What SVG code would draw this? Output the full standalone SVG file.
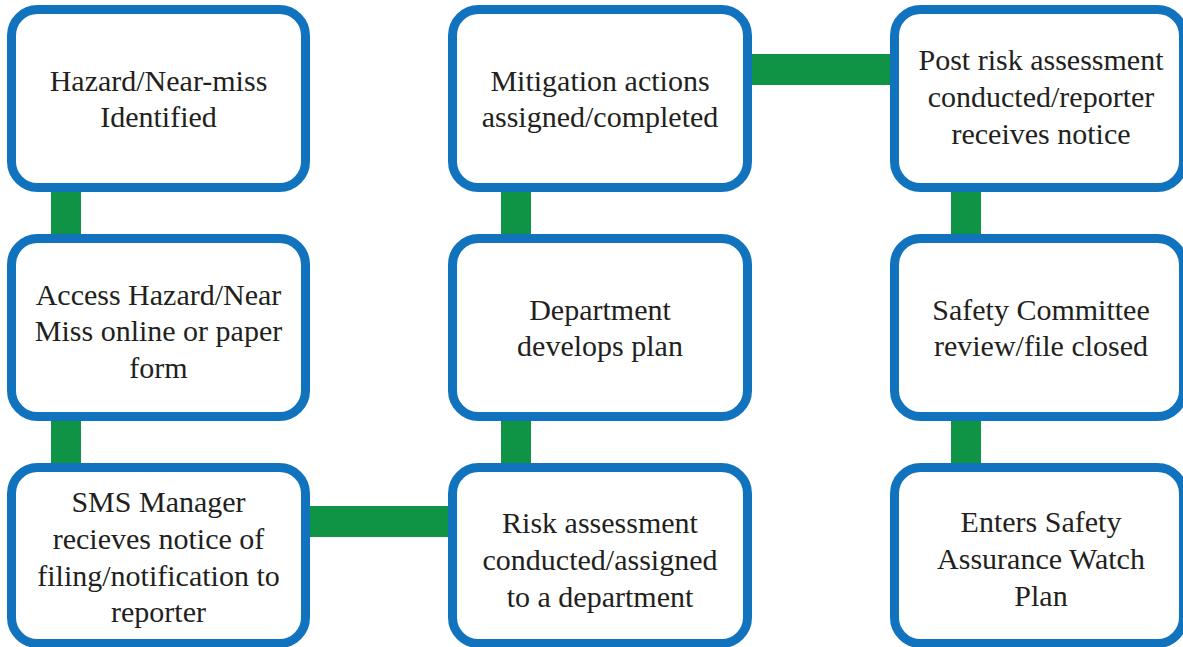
<svg xmlns="http://www.w3.org/2000/svg" width="1183" height="647" viewBox="0 0 1183 647">
  <style>
    .box { fill: #ffffff; stroke: #1173bd; stroke-width: 9; }
    .link { fill: #0f9344; }
    .label { font-family: "Liberation Serif", "Times New Roman", serif; font-size: 30px; fill: #231f20; text-anchor: middle; }
  </style>
  <rect width="1183" height="647" fill="#ffffff"/>

  <!-- connectors between steps -->
  <g id="connectors">
    <rect class="link" x="51" y="190" width="30" height="48"/>
    <rect class="link" x="51" y="419" width="30" height="48"/>
    <rect class="link" x="306" y="506" width="146" height="31"/>
    <rect class="link" x="501" y="419" width="30" height="48"/>
    <rect class="link" x="501" y="190" width="30" height="48"/>
    <rect class="link" x="748" y="54" width="146" height="31"/>
    <rect class="link" x="951" y="190" width="30" height="48"/>
    <rect class="link" x="951" y="419" width="30" height="48"/>
  </g>

  <g id="hazard-identified">
    <rect class="box" x="11.5" y="9.5" width="294" height="178" rx="26"/>
    <text class="label" x="158.5" y="91">Hazard/Near-miss</text>
    <text class="label" x="158.5" y="127">Identified</text>
  </g>

  <g id="access-form">
    <rect class="box" x="11.5" y="238.5" width="294" height="178" rx="26"/>
    <text class="label" x="158.5" y="305">Access Hazard/Near</text>
    <text class="label" x="158.5" y="341">Miss online or paper</text>
    <text class="label" x="158.5" y="378">form</text>
  </g>

  <g id="sms-manager">
    <rect class="box" x="11.5" y="467.5" width="294" height="176" rx="26"/>
    <text class="label" x="158.5" y="512">SMS Manager</text>
    <text class="label" x="158.5" y="549">recieves notice of</text>
    <text class="label" x="158.5" y="586">filing/notification to</text>
    <text class="label" x="158.5" y="622">reporter</text>
  </g>

  <g id="mitigation-actions">
    <rect class="box" x="452.5" y="9.5" width="295" height="178" rx="26"/>
    <text class="label" x="600" y="91">Mitigation actions</text>
    <text class="label" x="600" y="127">assigned/completed</text>
  </g>

  <g id="department-plan">
    <rect class="box" x="452.5" y="238.5" width="295" height="178" rx="26"/>
    <text class="label" x="600" y="320">Department</text>
    <text class="label" x="600" y="356">develops plan</text>
  </g>

  <g id="risk-assessment">
    <rect class="box" x="452.5" y="467.5" width="295" height="176" rx="26"/>
    <text class="label" x="600" y="533">Risk assessment</text>
    <text class="label" x="600" y="570">conducted/assigned</text>
    <text class="label" x="600" y="607">to a department</text>
  </g>

  <g id="post-risk-assessment">
    <rect class="box" x="894.5" y="9.5" width="289" height="178" rx="26"/>
    <text class="label" x="1041" y="70">Post risk assessment</text>
    <text class="label" x="1041" y="107">conducted/reporter</text>
    <text class="label" x="1041" y="144">receives notice</text>
  </g>

  <g id="safety-committee">
    <rect class="box" x="894.5" y="238.5" width="289" height="178" rx="26"/>
    <text class="label" x="1041" y="320">Safety Committee</text>
    <text class="label" x="1041" y="356">review/file closed</text>
  </g>

  <g id="watch-plan">
    <rect class="box" x="894.5" y="467.5" width="289" height="176" rx="26"/>
    <text class="label" x="1041" y="532">Enters Safety</text>
    <text class="label" x="1041" y="569">Assurance Watch</text>
    <text class="label" x="1041" y="606">Plan</text>
  </g>
</svg>
